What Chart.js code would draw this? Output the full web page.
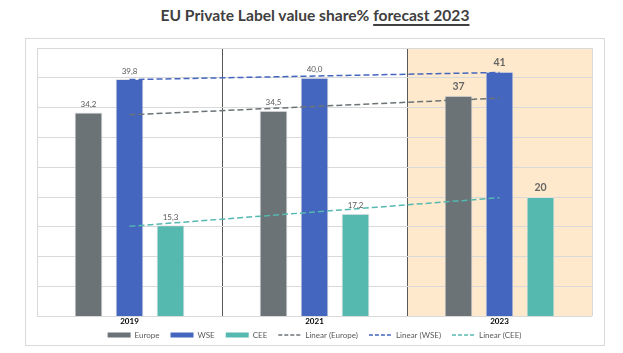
<!DOCTYPE html>
<html>
<head>
<meta charset="utf-8">
<script src="https://cdn.jsdelivr.net/npm/chart.js@4.4.1/dist/chart.umd.min.js"></script>
<style>
  html, body { margin: 0; background: #fff; overflow: hidden; font-family: Lato, sans-serif; }
  #title { position: absolute; left: 0; top: 6px; width: 630px; text-align: center;
           font: 700 15.6px/18px Lato, sans-serif; color: #404040; }
  #title u { text-decoration-thickness: 2px; text-underline-offset: 3px; }
  #box { position: absolute; left: 25px; top: 38px; width: 580px; height: 308px;
         box-sizing: border-box; border: 1px solid #d9d9d9; }
  #wrap { position: absolute; left: 26px; top: 39px; width: 578px; height: 316px; }
</style>
</head>
<body>
<div id="title">EU Private Label value share% <u>forecast 2023</u></div>
<div id="box"></div>
<div id="wrap"><canvas id="myChart"></canvas></div>
<script>
var years = ['2019', '2021', '2023'];
var europe = [34.2, 34.5, 37];
var wse = [39.8, 40.0, 41];
var cee = [15.3, 17.2, 20];
// trend lines
var trendEurope = [33.8, 35.2, 36.6];
var trendWse = [39.7, 40.3, 40.9];
var trendCee = [15.1, 17.5, 19.9];
var forecastIndex = 2;

var grey = '#6b7377';
var blue = '#4466be';
var teal = '#55b9b0';

// peach band behind the forecast year
var forecastBand = {
    id: 'forecastBand',
    beforeDraw: function (chart) {
        var x = chart.scales.x;
        var area = chart.chartArea;
        var half = (x.getPixelForValue(1) - x.getPixelForValue(0)) / 2;
        var c = x.getPixelForValue(forecastIndex);
        var ctx = chart.ctx;
        ctx.save();
        ctx.fillStyle = '#fee9cc';
        ctx.fillRect(c - half, area.top, half * 2, area.bottom - area.top);
        ctx.restore();
    }
};

// pull the legend up closer to the axis labels
var legendUp = {
    id: 'legendUp',
    afterLayout: function (chart) {
        chart.legend.top -= 6;
        chart.legend.bottom -= 6;
    }
};

// value labels above the bars
var barLabels = {
    id: 'barLabels',
    afterDatasetsDraw: function (chart) {
        var ctx = chart.ctx;
        ctx.save();
        ctx.textAlign = 'center';
        ctx.textBaseline = 'bottom';
        chart.data.datasets.forEach(function (ds, i) {
            if (ds.type === 'line') return;
            var meta = chart.getDatasetMeta(i);
            meta.data.forEach(function (bar, j) {
                var v = ds.data[j];
                var txt;
                if (j === forecastIndex) {
                    ctx.font = 'bold 10.5px Lato';
                    ctx.fillStyle = '#666';
                    txt = v.toFixed(0);
                } else {
                    ctx.font = '8px Lato';
                    ctx.fillStyle = '#595959';
                    txt = v.toFixed(1).replace('.', ',');
                }
                ctx.fillText(txt, bar.x, bar.y - 4);
            });
        });
        ctx.restore();
    }
};

var barStyle = { borderColor: 'rgba(225,225,225,0.9)', borderWidth: 1, categoryPercentage: 0.665, barPercentage: 0.68, order: 1 };

function lineSet(label, data, color) {
    return {
        type: 'line', label: label, data: data, borderColor: color, backgroundColor: color,
        borderWidth: 1.5, borderDash: [6, 3], pointRadius: 0, pointHoverRadius: 0,
        pointBorderWidth: 1.5, fill: false, order: 0
    };
}

var ctx = document.getElementById('myChart').getContext('2d');
new Chart(ctx, {
    type: 'bar',
    data: {
        labels: years,
        datasets: [
            Object.assign({ label: 'Europe', data: europe, backgroundColor: grey }, barStyle),
            Object.assign({ label: 'WSE', data: wse, backgroundColor: blue }, barStyle),
            Object.assign({ label: 'CEE', data: cee, backgroundColor: teal }, barStyle),
            lineSet('Linear (Europe)', trendEurope, grey),
            lineSet('Linear (WSE)', trendWse, blue),
            lineSet('Linear (CEE)', trendCee, teal)
        ]
    },
    options: {
        responsive: true,
        maintainAspectRatio: false,
        animation: false,
        layout: { padding: { left: 11, right: 12, top: 9, bottom: 0 } },
        scales: {
            x: {
                grid: {
                    offset: true,
                    drawTicks: false,
                    color: function (c) { return (c.index === 1 || c.index === 2) ? '#595959' : '#d9d9d9'; }
                },
                border: { display: false },
                ticks: { color: '#000', font: { family: 'Lato', size: 8, weight: 'bold' }, padding: 0 }
            },
            y: {
                min: 0,
                max: 45,
                ticks: { display: false, stepSize: 5 },
                grid: { color: '#d9d9d9', drawTicks: false },
                border: { display: false }
            }
        },
        plugins: {
            legend: {
                position: 'bottom',
                labels: {
                    usePointStyle: true,
                    pointStyleWidth: 23,
                    boxWidth: 23,
                    boxHeight: 5,
                    padding: 11,
                    color: '#595959',
                    font: { family: 'Lato', size: 8 },
                    sort: function (a, b) { return a.datasetIndex - b.datasetIndex; },
                    generateLabels: function (chart) {
                        var items = Chart.defaults.plugins.legend.labels.generateLabels(chart);
                        items.forEach(function (it) {
                            var ds = chart.data.datasets[it.datasetIndex];
                            if (ds.type === 'line') {
                                it.pointStyle = 'line';
                                it.lineDash = [4, 2];
                                it.strokeStyle = ds.borderColor;
                                it.lineWidth = 1.5;
                            } else {
                                it.pointStyle = 'rect';
                                it.fillStyle = ds.backgroundColor;
                                it.lineWidth = 0;
                            }
                        });
                        return items;
                    }
                }
            },
            tooltip: { enabled: false }
        }
    },
    plugins: [forecastBand, legendUp, barLabels]
});
</script>
</body>
</html>
